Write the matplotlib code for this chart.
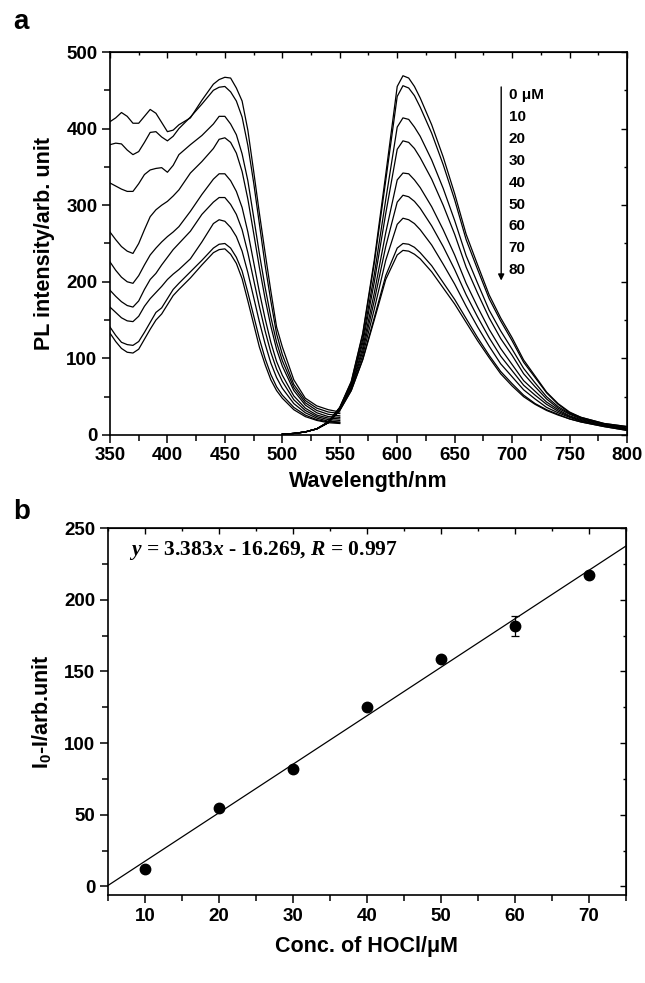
import numpy as np
import matplotlib
matplotlib.use("Agg")
import matplotlib.pyplot as plt
from matplotlib.ticker import MultipleLocator

plt.rcParams["font.family"] = ["Liberation Sans", "DejaVu Sans"]
plt.rcParams["font.weight"] = "bold"
plt.rcParams["mathtext.fontset"] = "custom"
plt.rcParams["mathtext.rm"] = "Liberation Sans:bold"
plt.rcParams["mathtext.bf"] = "Liberation Sans:bold"
plt.rcParams["mathtext.it"] = "Liberation Serif:italic:bold"

# ---- panel a: excitation (350-550 nm) and emission (500-800 nm) spectra ----
CONC_LABELS = ["0 \u03bcM", "10", "20", "30", "40", "50", "60", "70", "80"]

EX_WL = [350, 355, 360, 365, 370, 375, 380, 385, 390, 395, 400, 405, 410, 420,
         430, 440, 445, 450, 455, 460, 465, 470, 475, 480, 485, 490, 495, 500,
         510, 520, 530, 540, 550]
EX_0 = [409, 414, 421, 416, 407, 407, 416, 425, 420, 408, 396, 398, 405, 414,
        437, 458, 464, 467, 466, 453, 436, 398, 345, 290, 238, 188, 141, 115,
        72, 48, 38, 33, 30]
EX_10 = [379, 381, 380, 372, 366, 370, 382, 395, 396, 389, 384, 390, 400, 415,
         432, 450, 454, 455, 448, 436, 415, 378, 330, 276, 222, 175, 132, 105,
         66, 45, 35, 30, 28]
EX_20 = [329, 325, 321, 318, 318, 328, 340, 346, 348, 349, 343, 352, 366, 379,
         391, 406, 416, 416, 406, 392, 367, 332, 285, 237, 193, 154, 121, 97,
         62, 42, 32, 27, 25]
EX_30 = [265, 255, 246, 240, 237, 250, 268, 285, 294, 300, 305, 312, 320, 342,
         357, 374, 386, 388, 382, 368, 344, 308, 264, 219, 178, 142, 112, 90,
         58, 39, 29, 24, 23]
EX_40 = [226, 215, 206, 200, 198, 208, 222, 235, 244, 252, 259, 265, 272, 292,
         314, 334, 341, 341, 332, 318, 297, 265, 226, 187, 152, 121, 96, 78,
         51, 35, 26, 22, 21]
EX_50 = [189, 181, 174, 169, 167, 175, 190, 203, 211, 222, 232, 242, 250, 266,
         288, 304, 310, 310, 301, 288, 268, 238, 203, 168, 136, 108, 86, 70,
         46, 32, 24, 20, 19]
EX_60 = [167, 160, 153, 149, 148, 155, 168, 178, 186, 194, 203, 210, 216, 230,
         252, 276, 281, 279, 271, 259, 240, 212, 180, 148, 119, 94, 75, 61,
         41, 29, 22, 18, 17]
EX_70 = [141, 130, 121, 118, 117, 122, 134, 147, 160, 166, 178, 190, 198, 213,
         228, 244, 249, 250, 244, 232, 214, 186, 156, 126, 100, 79, 63, 52,
         36, 26, 20, 17, 16]
EX_80 = [133, 122, 113, 108, 107, 112, 125, 138, 150, 158, 170, 182, 190, 205,
         222, 238, 242, 243, 236, 224, 204, 175, 145, 115, 92, 72, 58, 48,
         33, 24, 19, 16, 15]

EM_WL = [500, 510, 520, 530, 540, 550, 560, 570, 580, 590, 600, 605, 610, 615,
         620, 630, 640, 650, 660, 670, 680, 690, 700, 710, 720, 730, 740, 750,
         760, 780, 800]
EM_0 = [1, 2, 4, 8, 17, 36, 70, 133, 228, 340, 455, 469, 466, 455, 440, 405,
        363, 315, 262, 222, 183, 153, 127, 98, 77, 56, 41, 30, 23, 15, 11]
EM_10 = [1, 2, 4, 8, 17, 36, 69, 131, 224, 332, 442, 456, 453, 443, 428, 394,
         353, 307, 255, 216, 178, 149, 123, 95, 75, 55, 40, 29, 23, 15, 11]
EM_20 = [1, 2, 4, 8, 17, 35, 67, 125, 209, 307, 402, 414, 412, 402, 390, 359,
         322, 280, 234, 198, 163, 136, 112, 87, 68, 50, 37, 28, 22, 14, 10]
EM_30 = [1, 2, 4, 8, 17, 35, 66, 120, 199, 289, 373, 384, 382, 374, 362, 334,
         300, 262, 219, 185, 153, 126, 104, 80, 63, 47, 35, 27, 21, 14, 9]
EM_40 = [1, 2, 4, 8, 16, 34, 63, 114, 185, 264, 333, 342, 341, 333, 323, 298,
         268, 235, 198, 167, 138, 113, 92, 71, 57, 43, 33, 25, 20, 13, 8]
EM_50 = [1, 2, 4, 8, 16, 33, 62, 109, 175, 246, 304, 313, 311, 305, 296, 273,
         246, 216, 183, 154, 127, 103, 84, 65, 52, 40, 31, 24, 19, 12, 8]
EM_60 = [1, 2, 4, 8, 16, 33, 60, 104, 164, 228, 275, 283, 281, 276, 268, 248,
         223, 197, 168, 141, 116, 93, 76, 59, 47, 36, 29, 23, 18, 12, 7]
EM_70 = [1, 2, 4, 8, 16, 32, 58, 99, 153, 208, 244, 250, 249, 245, 238, 221,
         199, 177, 152, 127, 104, 83, 67, 52, 41, 33, 27, 21, 17, 11, 6]
EM_80 = [1, 2, 4, 8, 16, 32, 58, 98, 150, 203, 235, 241, 240, 236, 230, 213,
         192, 171, 147, 123, 101, 80, 64, 50, 40, 32, 26, 21, 17, 11, 6]

EX_SERIES = [EX_0, EX_10, EX_20, EX_30, EX_40, EX_50, EX_60, EX_70, EX_80]
EM_SERIES = [EM_0, EM_10, EM_20, EM_30, EM_40, EM_50, EM_60, EM_70, EM_80]

# ---- panel b: calibration ----
CONC = [10, 20, 30, 40, 50, 60, 70]
DELTA_I = [12, 55, 82, 125, 159, 182, 217]
DELTA_ERR = [1, 1.5, 1.5, 1.5, 2, 7, 1.5]
SLOPE, INTERCEPT = 3.383, -16.269
FIT_RANGE = [5, 75]


def style_axes(ax):
    for s in ax.spines.values():
        s.set_linewidth(1.2)
    ax.tick_params(which="both", direction="out", width=1.1, labelsize=13.5,
                   top=False, right=False, pad=3)
    ax.tick_params(which="major", length=6)
    ax.tick_params(which="minor", length=4)
    sec_x = ax.secondary_xaxis("top")
    sec_y = ax.secondary_yaxis("right")
    for sec in (sec_x, sec_y):
        sec.tick_params(which="both", direction="in", labelsize=0,
                        width=1.0)
        sec.tick_params(which="major", length=4)
        sec.tick_params(which="minor", length=2.5)
    sec_x.xaxis.set_major_locator(ax.xaxis.get_major_locator())
    sec_x.xaxis.set_minor_locator(ax.xaxis.get_minor_locator())
    sec_y.yaxis.set_major_locator(ax.yaxis.get_major_locator())
    sec_y.yaxis.set_minor_locator(ax.yaxis.get_minor_locator())
    sec_x.set_xticklabels([])
    sec_y.set_yticklabels([])


fig = plt.figure(figsize=(6.45, 9.83), dpi=100)
ax_a = fig.add_axes([0.1705, 0.5575, 0.8016, 0.3896])
ax_b = fig.add_axes([0.1674, 0.0895, 0.803, 0.3733])

for ex in EX_SERIES:
    ax_a.plot(EX_WL, ex, color="black", lw=0.9)
for em in EM_SERIES:
    ax_a.plot(EM_WL, em, color="black", lw=0.9)

ax_a.set_xlim(350, 800)
ax_a.set_ylim(0, 500)
ax_a.xaxis.set_major_locator(MultipleLocator(50))
ax_a.xaxis.set_minor_locator(MultipleLocator(25))
ax_a.yaxis.set_major_locator(MultipleLocator(100))
ax_a.yaxis.set_minor_locator(MultipleLocator(50))
style_axes(ax_a)
ax_a.set_xlabel("Wavelength/nm", fontsize=15.5, fontweight="bold", labelpad=5)
ax_a.set_ylabel("PL intensity/arb. unit", fontsize=15.5, fontweight="bold",
                labelpad=8)

# concentration arrow + labels
ax_a.annotate("", xy=(690.5, 198), xytext=(690.5, 458),
              arrowprops=dict(arrowstyle="-|>", color="black", lw=1.0,
                              mutation_scale=9))
label_y = np.linspace(444, 215, len(CONC_LABELS))
for txt, yy in zip(CONC_LABELS, label_y):
    ax_a.text(697, yy, txt, fontsize=11, fontweight="bold", va="center",
              ha="left")

ax_b.plot(CONC, DELTA_I, "o", color="black", ms=7.5, zorder=3)
ax_b.errorbar(CONC, DELTA_I, yerr=DELTA_ERR, fmt="none", ecolor="black",
              elinewidth=0.9, capsize=3, capthick=0.9, zorder=2)
fit_x = np.array(FIT_RANGE, dtype=float)
ax_b.plot(fit_x, np.polyval([SLOPE, INTERCEPT], fit_x), color="black", lw=0.9)
ax_b.set_xlim(5, 75)
ax_b.set_ylim(-6, 250)
ax_b.xaxis.set_major_locator(MultipleLocator(10))
ax_b.xaxis.set_minor_locator(MultipleLocator(5))
ax_b.yaxis.set_major_locator(MultipleLocator(50))
ax_b.yaxis.set_minor_locator(MultipleLocator(25))
style_axes(ax_b)
ax_b.set_xlabel("Conc. of HOCl/\u03bcM", fontsize=15.5, fontweight="bold",
                labelpad=8)
ax_b.set_ylabel(r"I$_\mathrm{0}$-I/arb.unit", fontsize=15.5, fontweight="bold",
                labelpad=8)
ax_b.text(0.04, 0.94,
          r"$y$ = 3.383$x$ - 16.269, $R$ = 0.997",
          transform=ax_b.transAxes, fontsize=15.5, fontweight="bold",
          family="Liberation Serif", ha="left", va="center")

fig.text(0.02, 0.978, "a", fontsize=20, fontweight="bold", va="center")
fig.text(0.02, 0.479, "b", fontsize=20, fontweight="bold", va="center")

fig.savefig("out.png", dpi=100)
